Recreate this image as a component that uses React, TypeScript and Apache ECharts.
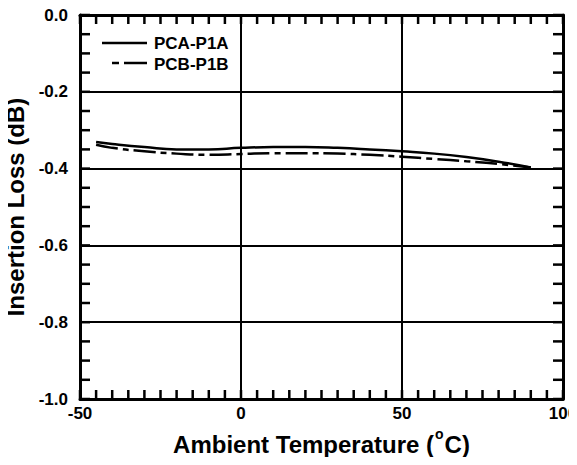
import React, { useEffect, useRef } from "react";
import * as echarts from "echarts";

const temps = [-45, -40, -30, -20, -10, 0, 10, 20, 30, 40, 50, 60, 70, 80, 90];
const pcaP1A = [-0.331, -0.336, -0.344, -0.35, -0.35, -0.346, -0.344, -0.344, -0.346, -0.35, -0.355, -0.361, -0.37, -0.382, -0.397];
const pcbP1B = [-0.338, -0.346, -0.355, -0.361, -0.364, -0.362, -0.36, -0.36, -0.361, -0.364, -0.369, -0.375, -0.381, -0.388, -0.397];
const seriesNames = ["PCA-P1A", "PCB-P1B"];

const X_MIN = -50, X_MAX = 100, X_STEP = 50, X_MINOR = 5;
const Y_MIN = -1, Y_MAX = 0, Y_STEP = 0.2, Y_MINOR = 0.05;

const FONT = "'Liberation Sans', Arial, sans-serif";

const xTickVals: number[] = [];
for (let i = 0; i <= Math.round((X_MAX - X_MIN) / X_MINOR); i++) xTickVals.push(X_MIN + i * X_MINOR);
const yTickVals: number[] = [];
for (let i = 0; i <= Math.round((Y_MAX - Y_MIN) / Y_MINOR); i++) yTickVals.push(+(Y_MIN + i * Y_MINOR).toFixed(3));

export default function App() {
  const ref = useRef<HTMLDivElement>(null);
  useEffect(() => {
    if (!ref.current) return;
    const chart = echarts.init(ref.current, undefined, { renderer: "svg" });
    const TLX = 9;
    const TLY = 10;
    const tickStyle = { stroke: "#000000", fill: null, lineWidth: 2.5 };
    const axisCommon = {
      axisLine: { show: true, onZero: false, lineStyle: { color: "#000", width: 3 } },
      axisTick: { show: false },
    };
    chart.setOption({
      animation: false,
      backgroundColor: "#fff",
      grid: { left: 80, right: 14, top: 15, bottom: 66, outerBoundsMode: "none", containLabel: false },
      xAxis: [
        {
          type: "value",
          min: X_MIN,
          max: X_MAX,
          interval: X_STEP,
          position: "bottom",
          ...axisCommon,
          splitLine: { show: true, lineStyle: { color: "#000", width: 2 } },
          axisLabel: { color: "#000", fontFamily: FONT, fontWeight: "bold", fontSize: 17, margin: 6 },
          name: "{a|Ambient Temperature (}{s|o}{a|C)}",
          nameLocation: "middle",
          nameGap: 27,
          nameTextStyle: {
            rich: {
              a: { fontFamily: FONT, fontWeight: "bold", fontSize: 24, color: "#000", lineHeight: 30, verticalAlign: "bottom" },
              s: { fontFamily: FONT, fontWeight: "bold", fontSize: 14, color: "#000", lineHeight: 14, verticalAlign: "top", padding: [0, 1, 0, 1] },
            },
          },
        },
        {
          type: "value",
          min: X_MIN,
          max: X_MAX,
          interval: X_STEP,
          position: "top",
          ...axisCommon,
          splitLine: { show: false },
          axisLabel: { show: false },
        },
      ],
      yAxis: [
        {
          type: "value",
          min: Y_MIN,
          max: Y_MAX,
          interval: Y_STEP,
          position: "left",
          ...axisCommon,
          splitLine: { show: true, lineStyle: { color: "#000", width: 2 } },
          axisLabel: {
            color: "#000",
            fontFamily: FONT,
            fontWeight: "bold",
            fontSize: 17,
            margin: 12,
            formatter: (v: number) => v.toFixed(1),
          },
          name: "Insertion Loss (dB)",
          nameLocation: "middle",
          nameGap: 50,
          nameTextStyle: { fontFamily: FONT, fontWeight: "bold", fontSize: 24, color: "#000" },
        },
        {
          type: "value",
          min: Y_MIN,
          max: Y_MAX,
          interval: Y_STEP,
          position: "right",
          ...axisCommon,
          splitLine: { show: false },
          axisLabel: { show: false },
        },
      ],
      series: [
        {
          name: seriesNames[0],
          type: "line",
          smooth: true,
          symbol: "none",
          data: temps.map((t, i) => [t, pcaP1A[i]]),
          lineStyle: { color: "#000", width: 2.5 },
        },
        {
          name: seriesNames[1],
          type: "line",
          smooth: true,
          symbol: "none",
          data: temps.map((t, i) => [t, pcbP1B[i]]),
          lineStyle: { color: "#000", width: 2.5, type: [22, 5, 6, 5] },
        },
        {
          type: "custom",
          silent: true,
          clip: false,
          z: 10,
          data: xTickVals.map((v) => [v, Y_MIN]),
          renderItem: (params: any, api: any) => {
            const v = api.value(0);
            const b = api.coord([v, Y_MIN]);
            const t = api.coord([v, Y_MAX]);
            return {
              type: "group",
              children: [
                { type: "line", shape: { x1: b[0], y1: b[1], x2: b[0], y2: b[1] - TLX }, style: tickStyle },
                { type: "line", shape: { x1: t[0], y1: t[1], x2: t[0], y2: t[1] + TLX }, style: tickStyle },
              ],
            };
          },
        },
        {
          type: "custom",
          silent: true,
          clip: false,
          z: 10,
          data: yTickVals.map((v) => [X_MIN, v]),
          renderItem: (params: any, api: any) => {
            const v = api.value(1);
            const l = api.coord([X_MIN, v]);
            const r = api.coord([X_MAX, v]);
            return {
              type: "group",
              children: [
                { type: "line", shape: { x1: l[0], y1: l[1], x2: l[0] + TLY, y2: l[1] }, style: tickStyle },
                { type: "line", shape: { x1: r[0], y1: r[1], x2: r[0] - TLY, y2: r[1] }, style: tickStyle },
              ],
            };
          },
        },
      ],
      graphic: [
        { type: "line", shape: { x1: 102, y1: 43, x2: 147, y2: 43 }, style: { stroke: "#000", lineWidth: 2.5 } },
        { type: "line", shape: { x1: 112, y1: 63, x2: 119, y2: 63 }, style: { stroke: "#000", lineWidth: 2.5 } },
        { type: "line", shape: { x1: 124, y1: 63, x2: 147, y2: 63 }, style: { stroke: "#000", lineWidth: 2.5 } },
        { type: "text", x: 154, y: 43, style: { text: seriesNames[0], fontFamily: FONT, fontWeight: "bold", fontSize: 17, fill: "#000", textVerticalAlign: "middle" } },
        { type: "text", x: 154, y: 64, style: { text: seriesNames[1], fontFamily: FONT, fontWeight: "bold", fontSize: 17, fill: "#000", textVerticalAlign: "middle" } },
        { type: "text", x: 95, y: -6, style: { text: "DD", fontFamily: FONT, fontWeight: "bold", fontSize: 14, fill: "#000", textVerticalAlign: "top" } },
      ],
    });
    return () => chart.dispose();
  }, []);
  return <div ref={ref} style={{ width: 577, height: 465, margin: -8 }} />;
}
